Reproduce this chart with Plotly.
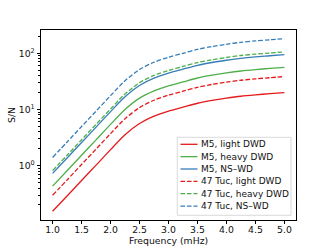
import plotly.graph_objects as go

# ---- data ----
freq = [1.0, 1.25, 1.5, 1.75, 2.0, 2.25, 2.5, 2.75, 3.0, 3.25, 3.5, 3.75, 4.0, 4.25, 4.5, 4.75, 5.0]

m5_light = [0.154, 0.288, 0.545, 1.02, 1.93, 3.55, 5.62, 7.59, 9.33, 10.96, 12.9, 14.5, 15.9, 17.2, 18.2, 19.1, 19.95]
m5_heavy = [0.433, 0.813, 1.53, 2.88, 5.43, 10.0, 15.9, 21.4, 26.3, 30.9, 36.3, 40.7, 44.7, 48.4, 51.3, 53.7, 56.2]
m5_nswd = [0.729, 1.37, 2.58, 4.85, 9.14, 16.8, 26.7, 36.0, 44.2, 52.0, 61.0, 68.5, 75.1, 81.4, 86.3, 90.3, 94.6]
tuc_light = [0.297, 0.556, 1.05, 1.97, 3.72, 6.84, 10.8, 14.6, 18.0, 21.1, 24.8, 27.9, 30.6, 33.1, 35.1, 36.7, 38.5]
tuc_heavy = [0.816, 1.53, 2.89, 5.43, 10.2, 18.8, 29.9, 40.3, 49.5, 58.2, 68.4, 76.7, 84.1, 91.2, 96.6, 101.1, 105.9]
tuc_nswd = [1.40, 2.63, 4.97, 9.33, 17.6, 32.4, 51.3, 69.2, 85.1, 100.0, 117.5, 131.8, 144.5, 156.7, 166.0, 173.7, 182.0]

series_names = ["M5, light DWD", "M5, heavy DWD", "M5, NS\u2013WD",
                "47 Tuc, light DWD", "47 Tuc, heavy DWD", "47 Tuc, NS\u2013WD"]
series_values = [m5_light, m5_heavy, m5_nswd, tuc_light, tuc_heavy, tuc_nswd]
series_colors = ["#e41a1c", "#4daf4a", "#377eb8", "#e41a1c", "#4daf4a", "#377eb8"]
series_dash = ["solid", "solid", "solid", "4.5px,2px", "4.5px,2px", "4.5px,2px"]

xticks = [1.0, 1.5, 2.0, 2.5, 3.0, 3.5, 4.0, 4.5, 5.0]
xticklabels = ["1.0", "1.5", "2.0", "2.5", "3.0", "3.5", "4.0", "4.5", "5.0"]
yticks = [1, 10, 100]
yticklabels = ["10<sup>0</sup>", "10<sup>1</sup>", "10<sup>2</sup>"]
yminor = [m * 10 ** e for e in (-1, 0, 1, 2) for m in range(2, 10)]

# ---- layout geometry ----
W, H = 329, 247
L, R, T, B = 41, 33, 30, 27
PW, PH = W - L - R, H - T - B
FONT = "DejaVu Sans"

def px(x):
    return (x - L) / PW

def py(y):
    return (H - B - y) / PH

fig = go.Figure()
for name, vals, col, dsh in zip(series_names, series_values, series_colors, series_dash):
    fig.add_trace(go.Scatter(x=freq, y=vals, mode="lines", name=name,
                             line=dict(color=col, width=1.3, dash=dsh, shape="spline", smoothing=0.8),
                             showlegend=False))

axis_common = dict(showline=True, linecolor="black", linewidth=0.8, mirror=True,
                   ticks="outside", ticklen=3.5, tickwidth=0.8, tickcolor="black",
                   showgrid=False, zeroline=False, automargin=False,
                   tickfont=dict(family=FONT, size=9.3, color="#111"))

fig.update_xaxes(range=[0.8, 5.2], tickvals=xticks, ticktext=xticklabels,
                 ticklabelstandoff=-3, **axis_common)
fig.update_yaxes(type="log", range=[-0.967, 2.414], tickvals=yticks, ticktext=yticklabels,
                 minor=dict(tickvals=yminor, ticks="outside", ticklen=2, tickwidth=0.6, tickcolor="black"),
                 **axis_common)

# axis titles
fig.add_annotation(text="S/N", x=px(12), y=py(115), xref="paper", yref="paper",
                   textangle=-90, showarrow=False, font=dict(family=FONT, size=9.3, color="#111"),
                   xanchor="center", yanchor="middle")
fig.add_annotation(text="Frequency (mHz)", x=px(168.5), y=py(241), xref="paper", yref="paper",
                   showarrow=False, font=dict(family=FONT, size=9.3, color="#111"),
                   xanchor="center", yanchor="middle", borderpad=0)

# ---- legend (drawn manually to match compact matplotlib spacing) ----
lx0, lx1, ly0, ly1 = 177.3, 291.0, 137.3, 215.3
fig.add_shape(type="rect", xref="paper", yref="paper",
              x0=px(lx0), x1=px(lx1), y0=py(ly1), y1=py(ly0),
              line=dict(color="#d0d0d0", width=0.8), fillcolor="rgba(255,255,255,0.8)", layer="above")
row0, drow = 144.3, 12.35
for i, (name, col, dsh) in enumerate(zip(series_names, series_colors, series_dash)):
    yy = row0 + i * drow
    fig.add_shape(type="line", xref="paper", yref="paper",
                  x0=px(180.5), x1=px(197.5), y0=py(yy), y1=py(yy),
                  line=dict(color=col, width=1.3, dash=dsh), layer="above")
    fig.add_annotation(text=name, x=px(199.5), y=py(yy), xref="paper", yref="paper",
                       showarrow=False, xanchor="left", yanchor="middle", borderpad=0,
                       font=dict(family=FONT, size=9.0, color="#111"))

fig.update_layout(width=W, height=H, margin=dict(l=L, r=R, t=T, b=B, autoexpand=False),
                  paper_bgcolor="white", plot_bgcolor="white", showlegend=False)

fig.write_html("out.html", config={"displayModeBar": False},
               post_script="document.body.style.margin='0';document.body.style.padding='0';")
